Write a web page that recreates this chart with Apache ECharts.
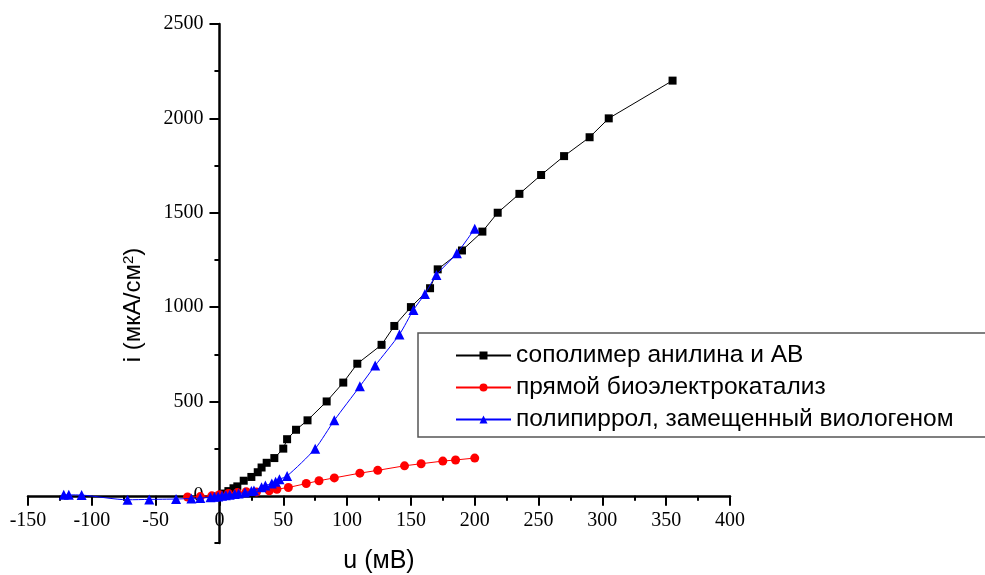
<!DOCTYPE html>
<html>
<head>
<meta charset="utf-8">
<script src="https://cdn.jsdelivr.net/npm/echarts@6/dist/echarts.min.js"></script>
<style>
  html, body { margin: 0; padding: 0; background: #fff; }
  #chart { width: 985px; height: 575px; }
</style>
</head>
<body>
<div id="chart"></div>
<script>
// Series names (legend)
const seriesNames = [
  'сополимер анилина и АВ',
  'прямой биоэлектрокатализ',
  'полипиррол, замещенный виологеном'
];

// Potential u (мВ) and current density i (мкА/см²) for each electrode
const copolymerU = [0, 2, 4, 7, 11, 14, 19, 25, 30, 33, 37, 43, 50, 53, 60, 69, 84, 97, 108, 127, 137, 150, 165, 171, 190, 206, 218, 235, 252, 270, 290, 305, 355];
const copolymerI = [0, 5, 12, 25, 40, 50, 80, 100, 125, 150, 175, 200, 250, 300, 350, 400, 500, 600, 700, 800, 900, 1000, 1100, 1200, 1300, 1400, 1500, 1600, 1700, 1800, 1900, 2000, 2200];

const directU = [-25, -15, -6, 0, 7, 14, 21, 29, 39, 45, 54, 68, 78, 90, 110, 124, 145, 158, 175, 185, 200];
const directI = [-6, -4, 0, 6, 12, 17, 22, 20, 27, 35, 44, 65, 80, 95, 120, 135, 159, 170, 184, 190, 200];

const pyrroleU = [-122, -118, -108, -72, -55, -34, -22, -15, -7, -4, -1, 2, 5, 8, 12, 15, 20, 25, 27, 33, 36, 41, 44, 47, 53, 75, 90, 110, 122, 141, 152, 161, 170, 186, 200];
const pyrroleI = [5, 5, 4, -21, -19, -17, -14, -12, -8, -5, -3, 0, 3, 6, 10, 12, 17, 25, 28, 45, 55, 65, 74, 88, 105, 250, 400, 580, 690, 855, 985, 1070, 1170, 1285, 1415];

// Axis ranges and ticks
const xMin = -150, xMax = 400, xStep = 50;
const yMin = -250, yMax = 2500, yMinorStep = 250;
const yMajorTicks = [0, 500, 1000, 1500, 2000, 2500];

const zip = (a, b) => a.map((v, k) => [v, b[k]]);

const W = 985, H = 575;
const gridLeft = 28, gridRight = 255, gridTop = 24, gridBottom = 32;
const gridWidth = W - gridLeft - gridRight;
const gridHeight = H - gridTop - gridBottom;
// axes cross at the origin: shift each axis inwards onto the zero of the other
const yAxisShift = -gridWidth * (0 - xMin) / (xMax - xMin);
const xAxisShift = -gridHeight * (0 - yMin) / (yMax - yMin);

const chart = echarts.init(document.getElementById('chart'), null, { renderer: 'canvas' });

const serifFont = 'Liberation Serif';
const sansFont = 'Liberation Sans';
const plain = v => String(v);

const axisLineStyle = { color: '#000', width: 2.5 };
const tickStyle = { color: '#000', width: 2 };

chart.setOption({
  animation: false,
  backgroundColor: '#fff',
  grid: { left: gridLeft, right: gridRight, top: gridTop, bottom: gridBottom, containLabel: false },
  xAxis: {
    type: 'value',
    position: 'bottom',
    offset: xAxisShift,
    min: xMin, max: xMax, interval: xStep,
    axisLine: { show: true, onZero: false, lineStyle: axisLineStyle },
    axisTick: { show: true, length: 10, lineStyle: tickStyle },
    minorTick: { show: true, splitNumber: 2, length: 5, lineStyle: tickStyle },
    axisLabel: { margin: 15, color: '#000', fontFamily: serifFont, fontSize: 20, formatter: plain },
    splitLine: { show: false },
    minorSplitLine: { show: false }
  },
  yAxis: [
    {
      // minor ticks every 250
      type: 'value',
      position: 'left',
      min: yMin, max: yMax, interval: yMinorStep,
      offset: yAxisShift,
      axisLine: { show: true, onZero: false, lineStyle: axisLineStyle },
      axisTick: { show: true, length: 5, lineStyle: tickStyle },
      axisLabel: { show: false },
      splitLine: { show: false }
    },
    {
      // major ticks with labels
      type: 'value',
      position: 'left',
      min: yMin, max: yMax, interval: yMinorStep,
      offset: yAxisShift,
      axisLine: { show: false, onZero: false },
      axisTick: { show: true, length: 10, customValues: yMajorTicks, lineStyle: tickStyle },
      axisLabel: { show: true, customValues: yMajorTicks, margin: 16, color: '#000', fontFamily: serifFont, fontSize: 20, formatter: plain },
      splitLine: { show: false }
    }
  ],
  legend: {
    orient: 'vertical',
    left: 455,
    top: 343,
    itemWidth: 55,
    itemHeight: 10,
    itemGap: 7,
    padding: 0,
    textStyle: { color: '#000', fontFamily: sansFont, fontSize: 24.5 },
    data: seriesNames
  },
  graphic: [
    {
      type: 'rect',
      z: 50,
      shape: { x: 418, y: 333, width: 600, height: 104 },
      style: { fill: 'none', stroke: '#555', lineWidth: 1.5 }
    },
    {
      type: 'text',
      x: 379, y: 561,
      style: {
        text: 'u (мВ)',
        font: '25px "Liberation Sans"',
        fill: '#000',
        textAlign: 'center',
        textVerticalAlign: 'middle'
      }
    },
    {
      type: 'text',
      x: 133, y: 305,
      rotation: Math.PI / 2,
      style: {
        text: 'i (мкА/см{sup|2})',
        font: '24px "Liberation Sans"',
        fill: '#000',
        textAlign: 'center',
        textVerticalAlign: 'middle',
        rich: {
          sup: { fontSize: 15, fontFamily: sansFont, verticalAlign: 'top', fill: '#000' }
        }
      }
    }
  ],
  series: [
    {
      name: seriesNames[0],
      type: 'line',
      yAxisIndex: 0,
      data: zip(copolymerU, copolymerI),
      symbol: 'rect',
      symbolSize: 8,
      itemStyle: { color: '#000' },
      lineStyle: { color: '#000', width: 1 },
      z: 3
    },
    {
      name: seriesNames[1],
      type: 'line',
      yAxisIndex: 0,
      data: zip(directU, directI),
      symbol: 'circle',
      symbolSize: 9,
      itemStyle: { color: '#ff0000' },
      lineStyle: { color: '#ff0000', width: 1 },
      z: 3
    },
    {
      name: seriesNames[2],
      type: 'line',
      yAxisIndex: 0,
      data: zip(pyrroleU, pyrroleI),
      symbol: 'triangle',
      symbolSize: 10,
      smooth: 0.25,
      itemStyle: { color: '#0000ff' },
      lineStyle: { color: '#0000ff', width: 1 },
      z: 4
    }
  ]
});
</script>
</body>
</html>
